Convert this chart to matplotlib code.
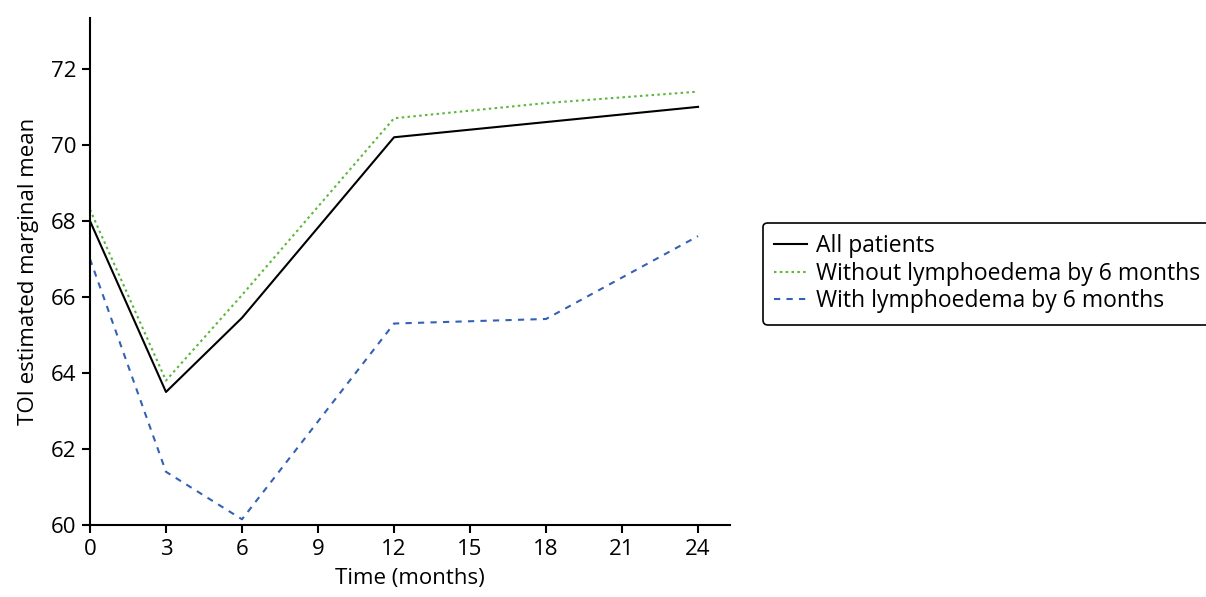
import matplotlib
matplotlib.use("Agg")
from matplotlib import pyplot as plt

# Estimated marginal means of TOI over follow-up
months = [0, 3, 6, 12, 18, 24]
all_patients = [68.0, 63.5, 65.45, 70.2, 70.6, 71.0]
without_lymph = [68.3, 63.8, 66.05, 70.7, 71.1, 71.4]
with_lymph = [67.0, 61.4, 60.15, 65.3, 65.42, 67.6]

xticks = [0, 3, 6, 9, 12, 15, 18, 21, 24]
yticks = [60, 62, 64, 66, 68, 70, 72]

plt.rcParams['font.family'] = ['Open Sans', 'DejaVu Sans']

fig = plt.figure(figsize=(12.06, 5.97), dpi=100)
ax = fig.add_axes([0.0746, 0.1206, 0.5307, 0.8494])

ax.plot(months, all_patients, color='black', lw=1.5, label='All patients')
ax.plot(months, without_lymph, color='#5cb83c', lw=1.5, linestyle=(0, (1.2, 1.6)),
        label='Without lymphoedema by 6 months')
ax.plot(months, with_lymph, color='#3561b5', lw=1.5, linestyle=(0, (3, 3)),
        label='With lymphoedema by 6 months')

ax.set_xlim(0, 25.26)
ax.set_ylim(60, 73.34)
ax.set_xticks(xticks)
ax.set_yticks(yticks)
ax.tick_params(labelsize=16, width=1.5, length=6, direction='out', pad=4)
for side in ['top', 'right']:
    ax.spines[side].set_visible(False)
for side in ['left', 'bottom']:
    ax.spines[side].set_linewidth(1.5)

ax.set_xlabel('Time (months)', fontsize=16, labelpad=6)
ax.set_ylabel('TOI estimated marginal mean', fontsize=16, labelpad=8)

leg = ax.legend(loc='upper left', bbox_to_anchor=(1.0516, 0.596), borderaxespad=0,
                fontsize=16.5, frameon=True, fancybox=True, edgecolor='black',
                handlelength=1.4, handletextpad=0.4, borderpad=0.5,
                labelspacing=0.15)
leg.get_frame().set_linewidth(1.2)
leg.get_frame().set_alpha(1)

fig.savefig('out.png', dpi=100)
